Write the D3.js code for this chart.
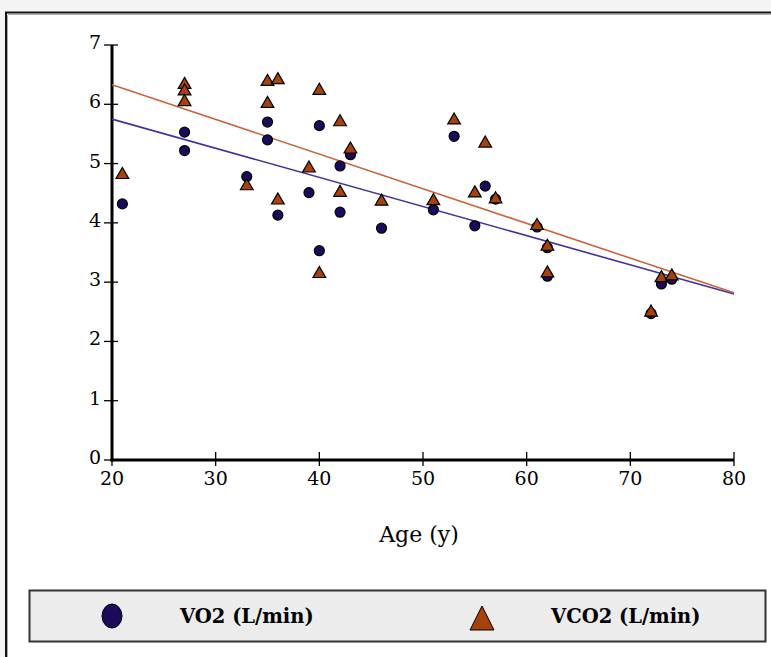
<!DOCTYPE html>
<html lang="en">
<head>
    <title>VO2 / VCO2 vs Age</title>
    <style>
        body {
            margin: 0;
            background: #f4f4f4;
        }

        .chart text {
            font-family: "DejaVu Serif", "Liberation Serif", serif;
            fill: #000;
        }

        .chart .tick-label {
            font-size: 19px;
        }

        .chart .axis-title {
            font-size: 22px;
        }

        .chart .legend-label {
            font-size: 19.5px;
            font-weight: bold;
        }
    </style>
</head>
<body>
<div id="chart"></div>

<script src="https://d3js.org/d3.v7.min.js"></script>
<script>
    // values
    var xTicks = [20, 30, 40, 50, 60, 70, 80];
    var yTicks = [0, 1, 2, 3, 4, 5, 6, 7];

    var vo2Age = [21, 27, 27, 33, 35, 35, 36, 39, 40, 40, 42, 42, 43, 46, 51, 53, 55, 56, 57, 61, 62, 62, 72, 73, 74];
    var vo2Val = [4.32, 5.53, 5.22, 4.78, 5.70, 5.40, 4.13, 4.51, 5.64, 3.53, 4.96, 4.18, 5.15, 3.91, 4.22, 5.46, 3.95, 4.62, 4.40, 3.93, 3.58, 3.10, 2.47, 2.97, 3.05];

    var vco2Age = [21, 27, 27, 27, 33, 35, 35, 36, 36, 39, 40, 40, 42, 42, 43, 46, 51, 53, 55, 56, 57, 61, 62, 62, 72, 73, 74];
    var vco2Val = [4.81, 6.33, 6.22, 6.04, 4.62, 6.38, 6.01, 6.41, 4.38, 4.92, 6.23, 3.14, 5.70, 4.51, 5.24, 4.36, 4.37, 5.73, 4.50, 5.34, 4.40, 3.95, 3.60, 3.15, 2.49, 3.07, 3.10];

    // regression lines, end points
    var fitAge = [20, 80];
    var vo2Fit = [5.75, 2.80];
    var vco2Fit = [6.33, 2.82];

    var seriesNames = ["VO2 (L/min)", "VCO2 (L/min)"];
    var xTitle = "Age (y)";

    var width = 771, height = 657;
    var colors = {
        vo2: "#1c0b5c",
        vco2: "#a8420c",
        vo2Line: "#42329c",
        vco2Line: "#c8643a"
    };

    var svg = d3.select("#chart").append("svg")
        .attr("class", "chart")
        .attr("width", width)
        .attr("height", height);

    // white panel with dark border
    svg.append("rect")
        .attr("x", 6).attr("y", 12.5)
        .attr("width", 820).attr("height", 700)
        .attr("fill", "#fff")
        .attr("stroke", "#111").attr("stroke-width", 2);
    svg.append("path")
        .attr("d", "M8,14.5H771M7.5,15V657")
        .attr("stroke", "#aaa").attr("fill", "none");

    var x = d3.scaleLinear().domain([20, 80]).range([112, 734]);
    var y = d3.scaleLinear().domain([0, 7]).range([460, 45]);

    var g = svg.append("g");

    // ticks (crossing the axis)
    g.selectAll(".ytick").data(yTicks).enter().append("line")
        .attr("x1", 104).attr("x2", 118)
        .attr("y1", function (d) { return y(d); })
        .attr("y2", function (d) { return y(d); })
        .attr("stroke", "#000").attr("stroke-width", 1.3);
    g.selectAll(".xtick").data(xTicks).enter().append("line")
        .attr("y1", 452).attr("y2", 466)
        .attr("x1", function (d) { return x(d); })
        .attr("x2", function (d) { return x(d); })
        .attr("stroke", "#000").attr("stroke-width", 1.3);

    // axis lines
    g.append("line")
        .attr("x1", x(20)).attr("x2", x(20))
        .attr("y1", y(7)).attr("y2", y(0) + 1.5)
        .attr("stroke", "#000").attr("stroke-width", 3);
    g.append("line")
        .attr("x1", x(20) - 1.5).attr("x2", x(80))
        .attr("y1", y(0)).attr("y2", y(0))
        .attr("stroke", "#000").attr("stroke-width", 3);

    g.selectAll(".ylab").data(yTicks).enter().append("text")
        .attr("class", "tick-label")
        .attr("x", 101)
        .attr("y", function (d) { return y(d) + 4; })
        .attr("text-anchor", "end")
        .text(function (d) { return d; });
    g.selectAll(".xlab").data(xTicks).enter().append("text")
        .attr("class", "tick-label")
        .attr("x", function (d) { return x(d); })
        .attr("y", 485)
        .attr("text-anchor", "middle")
        .text(function (d) { return d; });

    g.append("text")
        .attr("class", "axis-title")
        .attr("x", 419)
        .attr("y", 542)
        .attr("text-anchor", "middle")
        .text(xTitle);

    // regression lines
    var line = d3.line()
        .x(function (d) { return x(d[0]); })
        .y(function (d) { return y(d[1]); });

    g.append("path")
        .datum(d3.zip(fitAge, vo2Fit))
        .attr("d", line)
        .attr("fill", "none")
        .attr("stroke", colors.vo2Line).attr("stroke-width", 1.6);
    g.append("path")
        .datum(d3.zip(fitAge, vco2Fit))
        .attr("d", line)
        .attr("fill", "none")
        .attr("stroke", colors.vco2Line).attr("stroke-width", 1.6);

    // points
    var tri = d3.symbol().type(d3.symbolTriangle).size(70);

    g.selectAll(".vo2").data(d3.zip(vo2Age, vo2Val)).enter().append("circle")
        .attr("cx", function (d) { return x(d[0]); })
        .attr("cy", function (d) { return y(d[1]); })
        .attr("r", 5)
        .attr("fill", colors.vo2)
        .attr("stroke", "#000").attr("stroke-width", 1.2);

    g.selectAll(".vco2").data(d3.zip(vco2Age, vco2Val)).enter().append("path")
        .attr("d", tri)
        .attr("transform", function (d) {
            return "translate(" + x(d[0]) + "," + y(d[1]) + ")";
        })
        .attr("fill", colors.vco2)
        .attr("stroke", "#000").attr("stroke-width", 1.2);

    // legend
    var legend = svg.append("g");
    legend.append("rect")
        .attr("x", 29.5).attr("y", 590.5)
        .attr("width", 736).attr("height", 51)
        .attr("fill", "#ececec")
        .attr("stroke", "#333").attr("stroke-width", 2);

    legend.append("ellipse")
        .attr("cx", 112).attr("cy", 616)
        .attr("rx", 10).attr("ry", 12)
        .attr("fill", colors.vo2)
        .attr("stroke", "#000");
    legend.append("path")
        .attr("d", "M482,606L494,630L470,630Z")
        .attr("fill", colors.vco2)
        .attr("stroke", "#000");

    legend.selectAll(".legend-label").data(seriesNames).enter().append("text")
        .attr("class", "legend-label")
        .attr("x", function (d, i) { return i === 0 ? 180 : 551; })
        .attr("y", 623)
        .text(function (d) { return d; });
</script>
</body>
</html>
